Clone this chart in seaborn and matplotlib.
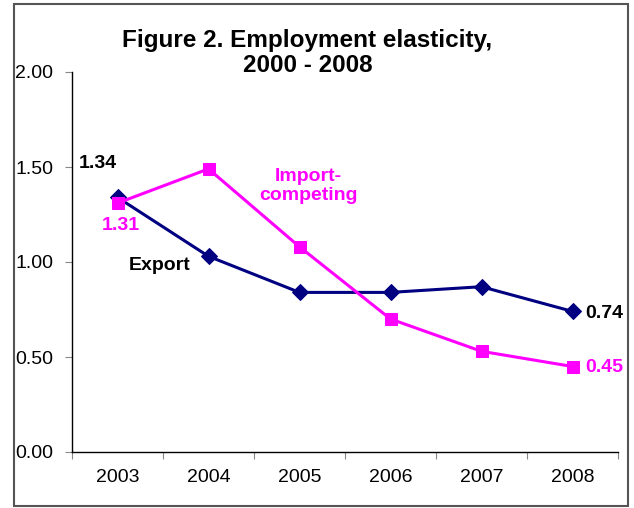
import numpy as np
import pandas as pd
import matplotlib.pyplot as plt
import seaborn as sns
from matplotlib.patches import Rectangle

years = ['2003', '2004', '2005', '2006', '2007', '2008']
export = [1.34, 1.03, 0.84, 0.84, 0.87, 0.74]
import_competing = [1.31, 1.49, 1.08, 0.70, 0.53, 0.45]
y_ticks = [0.0, 0.5, 1.0, 1.5, 2.0]

sns.set_style('white')
plt.rcParams['font.family'] = ['Liberation Sans', 'DejaVu Sans']
plt.rcParams['text.color'] = 'black'
plt.rcParams['xtick.labelcolor'] = 'black'
plt.rcParams['ytick.labelcolor'] = 'black'

pos = np.arange(len(years))
df = pd.DataFrame({'pos': pos, 'Export': export, 'Import-competing': import_competing})

fig = plt.figure(figsize=(6.34, 5.08), dpi=100)
ax = fig.add_axes([72 / 634, 1 - 452 / 508, 546 / 634, 380 / 508])

sns.lineplot(data=df, x='pos', y='Export', ax=ax, color='#000080', lw=2.2,
             marker='D', markersize=8, markeredgecolor='#000080')
sns.lineplot(data=df, x='pos', y='Import-competing', ax=ax, color='#FF00FF', lw=2.2,
             marker='s', markersize=9, markeredgecolor='#FF00FF')

ax.set_xlim(-0.5, len(years) - 0.5)
ax.set_ylim(0, 2)
ax.set_yticks(y_ticks)
ax.set_yticklabels([f'{v:.2f}' for v in y_ticks])
# ticks sit between the categories, labels in the middle
ax.set_xticks(np.append(pos - 0.5, len(years) - 0.5))
ax.set_xticklabels([''] * (len(years) + 1))
ax.set_xticks(pos, minor=True)
ax.set_xticklabels(years, minor=True)
ax.tick_params(axis='x', which='minor', length=0, pad=12, labelsize=14)
ax.tick_params(axis='x', which='major', length=5, color='#888888', direction='out', bottom=True)
ax.tick_params(axis='y', length=5, color='#888888', direction='out', left=True, pad=8.5, labelsize=14)
ax.set_xlabel('')
ax.set_ylabel('')
ax.spines['top'].set_visible(False)
ax.spines['right'].set_visible(False)
for s in ['left', 'bottom']:
    ax.spines[s].set_color('black')
    ax.spines[s].set_linewidth(1)

bold = dict(fontweight='bold', fontsize=14)
ax.text(-0.22, 1.52, f'{export[0]:.2f}', color='black', ha='center', va='center', **bold)
ax.text(0.04, 1.19, f'{import_competing[0]:.2f}', color='#FF00FF', ha='center', va='center', **bold)
ax.text(0.46, 0.98, 'Export', color='black', ha='center', va='center', **bold)
ax.text(2.1, 1.40, 'Import-\ncompeting', color='#FF00FF', ha='center', va='center', linespacing=1.1, **bold)
ax.text(5.14, 0.73, f'{export[-1]:.2f}', color='black', ha='left', va='center', **bold)
ax.text(5.14, 0.445, f'{import_competing[-1]:.2f}', color='#FF00FF', ha='left', va='center', **bold)

fig.text(307.5 / 634, 1 - 53 / 508, 'Figure 2. Employment elasticity,\n2000 - 2008', ha='center', va='center',
         fontsize=17.5, fontweight='bold', linespacing=1.1, color='black')

fig.patches.append(Rectangle((14 / 634, 1 - 506 / 508), 614 / 634, 502 / 508, transform=fig.transFigure,
                             fill=False, edgecolor='#555555', lw=1.5))

fig.savefig('out.png', dpi=100)
